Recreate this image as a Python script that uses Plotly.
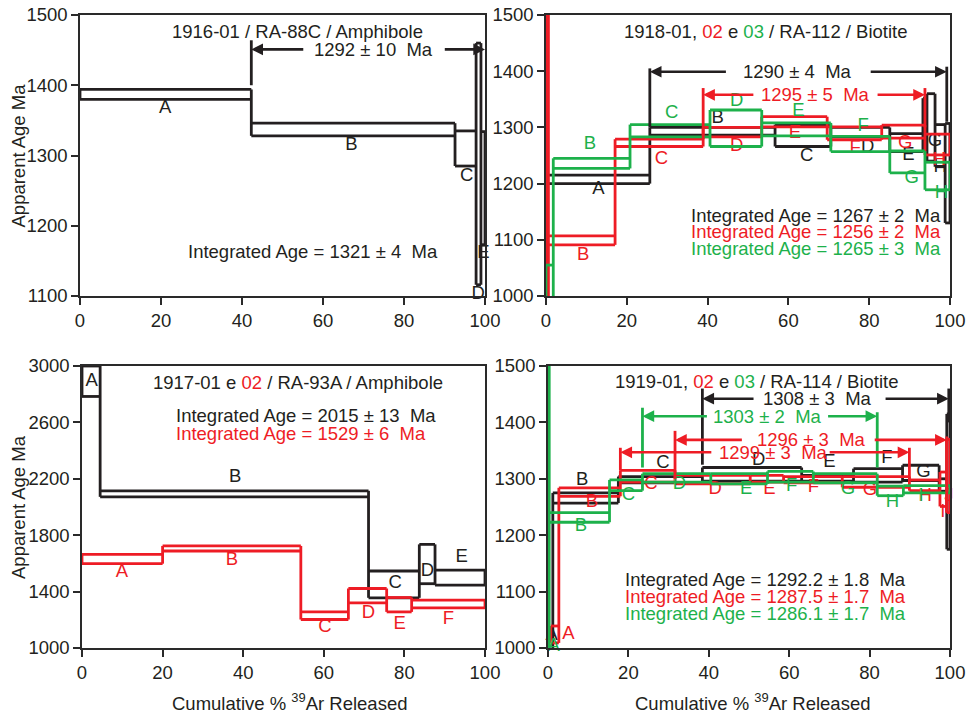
import plotly.graph_objects as go

BLACK = "#231f20"
RED = "#ee1c25"
GREEN = "#1db14b"
FONT = "Liberation Sans, Arial, sans-serif"
FS = 18.5

# ---------------- Panel 1: 1916-01 / RA-88C / Amphibole ----------------
p1_k_bounds = [0, 42.3, 92.6, 97.8, 99.0, 100]
p1_k_lo = [1380, 1328, 1285, 1116, 1173]
p1_k_hi = [1394, 1346, 1335, 1460, 1334]
p1_k_letters = ["A", "B", "C", "D", "E"]
p1_k_lab_x = [21, 67, 95.5, 98.3, 99.6]
p1_k_lab_y = [1367, 1315, 1270, 1102, 1160]

# ---------------- Panel 2: 1918-01, 02 e 03 / RA-112 / Biotite ----------------
p2_k_bounds = [0, 0.3, 25.7, 56.7, 70.5, 85.1, 93.3, 94.3, 96.3, 98.8, 100]
p2_k_lo = [950, 1200, 1286, 1266, 1283, 1257, 1290, 1240, 1230, 1130]
p2_k_hi = [1205, 1215, 1300, 1305, 1300, 1289, 1352, 1360, 1305, 1307]
p2_k_letters = ["", "A", "B", "C", "D", "E", "", "G", "H", ""]
p2_k_lab_x = [0, 13, 42.5, 64.5, 79.6, 89.7, 0, 96.3, 97.6, 0]
p2_k_lab_y = [0, 1190, 1316, 1248, 1265, 1251, 0, 1275, 1228, 0]

p2_r_bounds = [0, 0.6, 17.1, 38.9, 53.4, 69.6, 83.1, 93.8, 100]
p2_r_lo = [1000, 1091, 1266, 1283, 1301, 1278, 1281, 1251]
p2_r_hi = [1600, 1107, 1279, 1300, 1319, 1301, 1304, 1288]
p2_r_letters = ["", "B", "C", "D", "E", "F", "G", "H"]
p2_r_lab_x = [0, 9.2, 28.6, 47.2, 61.6, 76.5, 88.9, 97.3]
p2_r_lab_y = [0, 1073, 1243, 1267, 1289, 1263, 1272, 1242]

p2_g_bounds = [0, 1.8, 20.8, 40.6, 53.4, 70.5, 85.1, 93.8, 100]
p2_g_lo = [950, 1227, 1283, 1266, 1285, 1257, 1219, 1189]
p2_g_hi = [1055, 1245, 1305, 1331, 1308, 1284, 1258, 1238]
p2_g_letters = ["A", "B", "C", "D", "E", "F", "G", "H"]
p2_g_lab_x = [3.6, 10.9, 31.1, 47.2, 62.5, 78.5, 90.5, 97.9]
p2_g_lab_y = [975, 1269, 1325, 1346, 1328, 1301, 1209, 1183]

# ---------------- Panel 3: 1917-01 e 02 / RA-93A / Amphibole ----------------
p3_k_bounds = [0, 4.5, 71.1, 83.7, 87.6, 100]
p3_k_lo = [2784, 2072, 1356, 1456, 1446]
p3_k_hi = [3000, 2115, 1546, 1735, 1553]
p3_k_letters = ["A", "B", "C", "D", "E"]
p3_k_lab_x = [2.4, 38, 77.7, 85.7, 94.2]
p3_k_lab_y = [2890, 2210, 1458, 1545, 1640]

p3_r_bounds = [0, 20, 54.3, 66.1, 75.6, 81.8, 100]
p3_r_lo = [1598, 1688, 1202, 1320, 1256, 1285]
p3_r_hi = [1664, 1724, 1256, 1422, 1358, 1339]
p3_r_letters = ["A", "B", "C", "D", "E", "F"]
p3_r_lab_x = [9.9, 37.2, 60.3, 71.1, 78.8, 90.9]
p3_r_lab_y = [1534, 1624, 1143, 1249, 1171, 1202]

# ---------------- Panel 4: 1919-01, 02 e 03 / RA-114 / Biotite ----------------
p4_k_bounds = [0, 1.2, 17.5, 38.4, 63.1, 76.0, 88.2, 97.3, 99.2, 100]
p4_k_lo = [990, 1257, 1293, 1296, 1296, 1294, 1297, 1278, 1175]
p4_k_hi = [1020, 1275, 1304, 1320, 1306, 1318, 1324, 1300, 1415]
p4_k_letters = ["A", "B", "C", "D", "E", "F", "G", "", ""]
p4_k_lab_x = [0.9, 8.5, 28.6, 52.4, 70.0, 84.3, 93.4, 0, 0]
p4_k_lab_y = [1022, 1297, 1327, 1333, 1330, 1336, 1312, 0, 0]

p4_r_bounds = [0.7, 2.7, 18.0, 31.6, 50.3, 58.6, 73.2, 89.9, 97.5, 99.2, 100]
p4_r_lo = [1009, 1269, 1294, 1291, 1294, 1293, 1285, 1279, 1251, 1240]
p4_r_hi = [1039, 1284, 1315, 1306, 1306, 1304, 1304, 1298, 1312, 1370]
p4_r_letters = ["A", "B", "C", "D", "E", "F", "G", "H", "I", "J"]
p4_r_lab_x = [5.1, 10.9, 25.6, 41.6, 55.1, 66.0, 80.1, 93.8, 98.2, 99.7]
p4_r_lab_y = [1025, 1259, 1290, 1281, 1281, 1284, 1280, 1268, 1240, 1268]

p4_g_bounds = [0, 0.3, 15.3, 23.5, 40.5, 54.6, 66.0, 81.9, 88.4, 100]
p4_g_lo = [980, 1223, 1279, 1294, 1291, 1294, 1293, 1270, 1275]
p4_g_hi = [1520, 1240, 1298, 1309, 1309, 1313, 1309, 1287, 1288]
p4_g_letters = ["A", "B", "C", "D", "E", "F", "G", "H", "I"]
p4_g_lab_x = [1.4, 8.2, 20.0, 32.7, 49.3, 60.6, 74.6, 85.7, 92.8]
p4_g_lab_y = [1002, 1215, 1271, 1290, 1281, 1287, 1281, 1259, 1268]

# Plateau ages: (panel, colour, age y, start, end, gap start, gap end, text, text x,
#                start tick (lo, hi), end tick (lo, hi))
plateaus = [
    (1, BLACK, 1451, 42.3, 100, 55.5, 89.7, "1292 ± 10\u00a0\u00a0Ma", 72.4, (1400, 1464), None),
    (2, BLACK, 1399, 25.7, 99.2, 44.9, 80.0, "1290 ± 4\u00a0\u00a0Ma", 62.3, (1300, 1405), (1310, 1408)),
    (2, RED, 1358, 38.9, 93.8, 51.7, 81.7, "1295 ± 5\u00a0\u00a0Ma", 66.6, (1279, 1370), (1300, 1370)),
    (4, BLACK, 1442, 38.4, 99.7, 51.5, 83.6, "1308 ± 3\u00a0\u00a0Ma", 67.0, (1325, 1460), (1400, 1460)),
    (4, GREEN, 1411, 23.5, 81.9, 39.9, 69.3, "1303 ± 2\u00a0\u00a0Ma", 54.5, (1320, 1426), (1320, 1418)),
    (4, RED, 1369, 31.6, 99.2, 48.6, 80.9, "1296 ± 3\u00a0\u00a0Ma", 65.6, (1300, 1385), (1240, 1375)),
    (4, RED, 1347, 18.0, 89.9, 41.0, 69.7, "1299 ± 3\u00a0\u00a0Ma", 56.2, (1315, 1355), (1300, 1355)),
]

# Titles and integrated ages: (panel, x, y, text)
titles = [
    (1, 53.8, 1477, "1916-01 / RA-88C / Amphibole"),
    (2, 54.5, 1470, f"1918-01, <span style='color:{RED}'>02</span> e "
                    f"<span style='color:{GREEN}'>03</span> / RA-112 / Biotite"),
    (3, 53.6, 2880, f"1917-01 e <span style='color:{RED}'>02</span> / RA-93A / Amphibole"),
    (4, 52.0, 1473, f"1919-01, <span style='color:{RED}'>02</span> e "
                    f"<span style='color:{GREEN}'>03</span> / RA-114 / Biotite"),
]
integrated = [
    (1, 57.5, 1163, BLACK, "Integrated Age = 1321 ± 4\u00a0\u00a0Ma"),
    (2, 66.8, 1144, BLACK, "Integrated Age = 1267 ± 2\u00a0\u00a0Ma"),
    (2, 66.8, 1114, RED, "Integrated Age = 1256 ± 2\u00a0\u00a0Ma"),
    (2, 66.8, 1085, GREEN, "Integrated Age = 1265 ± 3\u00a0\u00a0Ma"),
    (3, 55.6, 2649, BLACK, "Integrated Age = 2015 ± 13\u00a0\u00a0Ma"),
    (3, 54.4, 2523, RED, "Integrated Age = 1529 ± 6\u00a0\u00a0Ma"),
    (4, 54.0, 1121, BLACK, "Integrated Age = 1292.2 ± 1.8\u00a0\u00a0Ma"),
    (4, 54.0, 1092, RED, "Integrated Age = 1287.5 ± 1.7\u00a0\u00a0Ma"),
    (4, 54.0, 1061, GREEN, "Integrated Age = 1286.1 ± 1.7\u00a0\u00a0Ma"),
]

series = [
    (1, BLACK, p1_k_bounds, p1_k_lo, p1_k_hi, p1_k_letters, p1_k_lab_x, p1_k_lab_y),
    (2, BLACK, p2_k_bounds, p2_k_lo, p2_k_hi, p2_k_letters, p2_k_lab_x, p2_k_lab_y),
    (2, RED, p2_r_bounds, p2_r_lo, p2_r_hi, p2_r_letters, p2_r_lab_x, p2_r_lab_y),
    (2, GREEN, p2_g_bounds, p2_g_lo, p2_g_hi, p2_g_letters, p2_g_lab_x, p2_g_lab_y),
    (3, BLACK, p3_k_bounds, p3_k_lo, p3_k_hi, p3_k_letters, p3_k_lab_x, p3_k_lab_y),
    (3, RED, p3_r_bounds, p3_r_lo, p3_r_hi, p3_r_letters, p3_r_lab_x, p3_r_lab_y),
    (4, BLACK, p4_k_bounds, p4_k_lo, p4_k_hi, p4_k_letters, p4_k_lab_x, p4_k_lab_y),
    (4, RED, p4_r_bounds, p4_r_lo, p4_r_hi, p4_r_letters, p4_r_lab_x, p4_r_lab_y),
    (4, GREEN, p4_g_bounds, p4_g_lo, p4_g_hi, p4_g_letters, p4_g_lab_x, p4_g_lab_y),
]

y_ranges = {1: (1100, 1500, 100), 2: (1000, 1500, 100), 3: (1000, 3000, 400), 4: (1000, 1500, 100)}

W, H = 976, 716
# plot areas in pixels (left, right, top, bottom)
areas = {1: (80, 485, 15, 296), 2: (546, 950, 15, 296), 3: (82, 485, 366, 648), 4: (548, 950, 366, 648)}


def axnames(p):
    s = "" if p == 1 else str(p)
    return "x" + s, "y" + s


def outline(b, lo, hi):
    xs, ys = [], []
    n = len(lo)
    for i in range(n):
        xs += [b[i], b[i + 1], None, b[i], b[i + 1], None]
        ys += [hi[i], hi[i], None, lo[i], lo[i], None]
    for j in range(n + 1):
        if j == 0:
            a, c = lo[0], hi[0]
        elif j == n:
            a, c = lo[-1], hi[-1]
        else:
            a, c = min(lo[j - 1], lo[j]), max(hi[j - 1], hi[j])
        xs += [b[j], b[j], None]
        ys += [a, c, None]
    return xs, ys


fig = go.Figure()

for p, col, b, lo, hi, let, lx, ly in series:
    xa, ya = axnames(p)
    xs, ys = outline(b, lo, hi)
    fig.add_trace(go.Scatter(x=xs, y=ys, mode="lines", xaxis=xa, yaxis=ya,
                             line=dict(color=col, width=2.8), hoverinfo="skip",
                             showlegend=False))
    keep = [i for i, t in enumerate(let) if t]
    fig.add_trace(go.Scatter(x=[lx[i] for i in keep], y=[ly[i] for i in keep],
                             text=[let[i] for i in keep], mode="text", xaxis=xa, yaxis=ya,
                             textfont=dict(color=col, size=FS, family=FONT),
                             textposition="middle center", cliponaxis=False,
                             hoverinfo="skip", showlegend=False))

annotations = []
for p, col, y, x0, x1, g0, g1, txt, tx, t0, t1 in plateaus:
    xa, ya = axnames(p)
    xs, ys = [], []
    if t0:
        xs += [x0, x0, None]; ys += [t0[0], t0[1], None]
    if t1:
        xs += [x1, x1, None]; ys += [t1[0], t1[1], None]
    fig.add_trace(go.Scatter(x=xs, y=ys, mode="lines", xaxis=xa, yaxis=ya,
                             line=dict(color=col, width=2.8), hoverinfo="skip",
                             showlegend=False))
    for tip, tail in ((x0, g0), (x1, g1)):
        annotations.append(dict(x=tip, y=y, ax=tail, ay=y, xref=xa, yref=ya,
                                axref=xa, ayref=ya, text="", showarrow=True,
                                arrowhead=2, arrowsize=0.9, arrowwidth=2.6,
                                arrowcolor=col, standoff=0, startstandoff=0))
    annotations.append(dict(x=tx, y=y, xref=xa, yref=ya, text=txt, showarrow=False,
                            font=dict(color=col, size=FS, family=FONT),
                            xanchor="center", yanchor="middle"))

for p, x, y, txt in titles:
    xa, ya = axnames(p)
    annotations.append(dict(x=x, y=y, xref=xa, yref=ya, text=txt, showarrow=False,
                            font=dict(color=BLACK, size=FS, family=FONT),
                            xanchor="center", yanchor="middle"))
for p, x, y, col, txt in integrated:
    xa, ya = axnames(p)
    annotations.append(dict(x=x, y=y, xref=xa, yref=ya, text=txt, showarrow=False,
                            font=dict(color=col, size=FS, family=FONT),
                            xanchor="center", yanchor="middle"))

for yc in (155.5, 507):
    annotations.append(dict(x=18 / W, y=1 - yc / H, xref="paper", yref="paper",
                            text="Apparent Age Ma", textangle=-90, showarrow=False,
                            font=dict(color=BLACK, size=FS, family=FONT),
                            xanchor="center", yanchor="middle"))
for xc in (289, 752):
    annotations.append(dict(x=xc / W, y=1 - 702 / H, xref="paper", yref="paper",
                            text="Cumulative % <sup>39</sup>Ar Released", showarrow=False,
                            font=dict(color=BLACK, size=FS, family=FONT),
                            xanchor="center", yanchor="middle"))

layout = dict(width=W, height=H, margin=dict(l=0, r=0, t=0, b=0),
              paper_bgcolor="white", plot_bgcolor="white", showlegend=False,
              annotations=annotations, font=dict(family=FONT, color=BLACK))

for p in (1, 2, 3, 4):
    l, r, t, bt = areas[p]
    s = "" if p == 1 else str(p)
    y0, y1, dy = y_ranges[p]
    common = dict(showline=True, linecolor="#2a2a2a", linewidth=1.5, mirror=True,
                  ticks="outside", ticklen=7, tickwidth=1.5, tickcolor="#2a2a2a",
                  showgrid=False, zeroline=False,
                  tickfont=dict(size=FS, family=FONT, color=BLACK),
                  fixedrange=True, automargin=False)
    layout["xaxis" + s] = dict(common, domain=[l / W, r / W], range=[0, 100], dtick=20,
                               tick0=0, anchor="y" + s)
    layout["yaxis" + s] = dict(common, domain=[1 - bt / H, 1 - t / H], range=[y0, y1],
                               dtick=dy, tick0=y0, anchor="x" + s)

fig.update_layout(**layout)
fig.write_html(
    "out.html",
    config={"responsive": False, "displayModeBar": False},
    post_script="document.body.style.margin='0';document.body.style.padding='0';"
                "document.documentElement.style.overflow='hidden';",
)
